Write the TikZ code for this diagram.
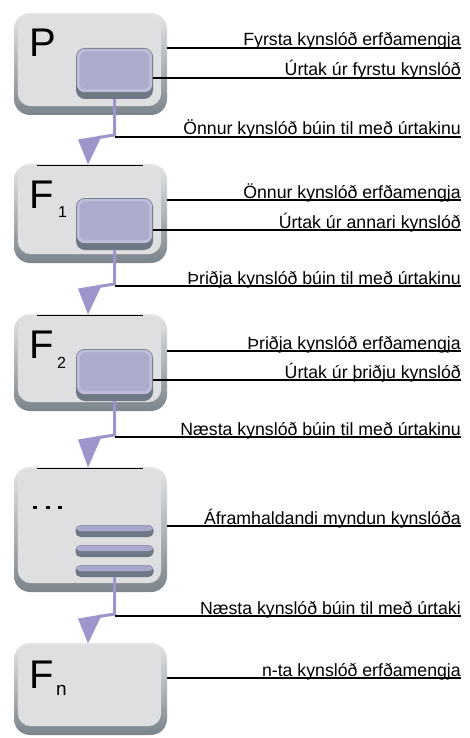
\documentclass[tikz,border=0pt]{standalone}
\usepackage{fontspec}
\setmainfont{Liberation Sans}
\definecolor{flowc}{HTML}{9C96CD}
\definecolor{keytop}{HTML}{E4E5E6}
\definecolor{keymid}{HTML}{CFD2D4}
\definecolor{keybot}{HTML}{7C858C}
\definecolor{keyface}{HTML}{DEDFE1}
\definecolor{slate}{HTML}{6E7884}
\definecolor{lavlight}{HTML}{BEBEDA}
\definecolor{lavface}{HTML}{ABABCC}
\definecolor{barlav}{HTML}{A9A9CB}
\newcommand\facekey[1]{%
  \fill[keyface, rounded corners=13pt] ([xshift=4pt,yshift=-2pt]#1.north west) rectangle ([xshift=-6pt,yshift=9pt]#1.south east);}
\newcommand\purplekey[1]{%
  \fill[lavlight, rounded corners=8pt] ([xshift=1pt,yshift=-1pt]#1.north west) rectangle ([xshift=-1pt,yshift=7pt]#1.south east);
  \fill[lavface, rounded corners=6pt] ([xshift=4pt,yshift=-3.5pt]#1.north west) rectangle ([xshift=-4pt,yshift=10pt]#1.south east);}
\newcommand\barkey[1]{%
  \fill[barlav, rounded corners=4pt] ([xshift=1pt,yshift=-0.5pt]#1.north west) rectangle ([xshift=-1pt,yshift=6pt]#1.south east);}
\begin{document}
\begin{tikzpicture}[x=1pt,y=-1pt,
  outerkey/.style={rectangle, inner sep=0pt, rounded corners=16pt, top color=keytop, middle color=keymid, bottom color=keybot, minimum width=153pt},
  innerkey/.style={rectangle, inner sep=0pt, rounded corners=9pt, fill=slate, minimum width=77pt},
  barnode/.style={rectangle, inner sep=0pt, rounded corners=5pt, fill=slate, minimum width=78pt, minimum height=12pt},
  lbl/.style={anchor=base east, inner sep=0pt, font=\fontsize{17.7}{20}\selectfont},
  big/.style={anchor=base west, inner sep=0pt, font=\fontsize{40}{40}\selectfont},
  subs/.style={anchor=base west, inner sep=0pt, font=\fontsize{16}{16}\selectfont},
  leader/.style={draw=black, line width=1.3pt},
  flow/.style={draw=flowc, line width=3pt},
  topline/.style={draw=black, line width=0.8pt},
  dotnode/.style={rectangle, fill=black, inner sep=0pt, minimum size=3.6pt}]
\useasboundingbox (0,0) rectangle (469,738);

% ---------- keys ----------
\node[outerkey, minimum height=102pt] (b1) at (90.5,64) {};
\facekey{b1}
\node[outerkey, minimum height=99pt] (b2) at (90.5,213.5) {};
\facekey{b2}
\node[outerkey, minimum height=97pt] (b3) at (90.5,362.5) {};
\facekey{b3}
\node[outerkey, minimum height=125pt] (b4) at (90.5,529.5) {};
\facekey{b4}
\node[outerkey, minimum height=92pt] (b5) at (90.5,689) {};
\facekey{b5}

\draw[topline] ([xshift=23pt,yshift=-1.2pt]b2.north west) -- ([xshift=-24pt,yshift=-1.2pt]b2.north east);
\draw[topline] ([xshift=23pt,yshift=-1.2pt]b3.north west) -- ([xshift=-24pt,yshift=-1.2pt]b3.north east);
\draw[topline] ([xshift=23pt,yshift=-1.2pt]b4.north west) -- ([xshift=-24pt,yshift=-1.2pt]b4.north east);

\node[innerkey, minimum height=51pt] (i1) at (114.5,73.5) {};
\purplekey{i1}
\node[innerkey, minimum height=52pt] (i2) at (114.5,224) {};
\purplekey{i2}
\node[innerkey, minimum height=52pt] (i3) at (114.5,375) {};
\purplekey{i3}

\node[barnode] (r1) at (114.5,531) {};
\barkey{r1}
\node[barnode] (r2) at (114.5,551) {};
\barkey{r2}
\node[barnode] (r3) at (114.5,571) {};
\barkey{r3}

% ---------- key letters ----------
\node[big] (lp) at (29,57) {P};
\node[big] (lf1) at (29,208) {F};
\node[subs] (s1) at (58,217) {1};
\node[big] (lf2) at (29,358) {F};
\node[subs] (s2) at (57,368) {2};
\node[dotnode] (d1) at (35,507.5) {};
\node[dotnode] (d2) at (48,507.5) {};
\node[dotnode] (d3) at (60,507.5) {};
\node[big] (lfn) at (29,688) {F};
\node[subs, font=\fontsize{19}{19}\selectfont] (sn) at (56,695) {n};

% ---------- flow arrows ----------
\coordinate (k1) at (114.5,135); \coordinate (m1) at (99,137.5); \coordinate (p1) at (88,164.5);
\coordinate (k2) at (114.5,284); \coordinate (m2) at (99,286.5); \coordinate (p2) at (88,314.5);
\coordinate (k3) at (114.5,435); \coordinate (m3) at (99,437.5); \coordinate (p3) at (88,467.5);
\coordinate (k4) at (114.5,614); \coordinate (m4) at (99,616.5); \coordinate (p4) at (88,643.5);

\draw[flow] (i1.south) -- (k1) -- (m1);
\fill[flowc] (78,139.5) -- (102,135.5) -- (p1) -- cycle;
\draw[flow] (i2.south) -- (k2) -- (m2);
\fill[flowc] (78,288.5) -- (102,284.5) -- (p2) -- cycle;
\draw[flow] (i3.south) -- (k3) -- (m3);
\fill[flowc] (78,439.5) -- (102,435.5) -- (p3) -- cycle;
\draw[flow] (r3.south) -- (k4) -- (m4);
\fill[flowc] (78,618.5) -- (102,614.5) -- (p4) -- cycle;

% ---------- leader lines ----------
\coordinate (e1a) at (461,48);  \coordinate (e1b) at (461,78);  \coordinate (e1c) at (461,137);
\coordinate (e2a) at (461,200); \coordinate (e2b) at (461,230); \coordinate (e2c) at (461,286);
\coordinate (e3a) at (461,351); \coordinate (e3b) at (461,380); \coordinate (e3c) at (461,437);
\coordinate (e4a) at (461,526); \coordinate (e4c) at (461,616);
\coordinate (e5a) at (461,678);

\draw[leader] (b1.east |- e1a) -- (e1a);
\draw[leader] (i1.east |- e1b) -- (e1b);
\draw[leader] (k1 |- e1c) -- (e1c);
\draw[leader] (b2.east |- e2a) -- (e2a);
\draw[leader] (i2.east |- e2b) -- (e2b);
\draw[leader] (k2 |- e2c) -- (e2c);
\draw[leader] (b3.east |- e3a) -- (e3a);
\draw[leader] (i3.east |- e3b) -- (e3b);
\draw[leader] (k3 |- e3c) -- (e3c);
\draw[leader] (b4.east |- e4a) -- (e4a);
\draw[leader] (k4 |- e4c) -- (e4c);
\draw[leader] (b5.east |- e5a) -- (e5a);

% ---------- labels ----------
\node[lbl] (t1a) at ([yshift=2pt]e1a) {Fyrsta kynslóð erfðamengja};
\node[lbl] (t1b) at ([yshift=2pt]e1b) {Úrtak úr fyrstu kynslóð};
\node[lbl] (t1c) at ([yshift=2pt]e1c) {Önnur kynslóð búin til með úrtakinu};
\node[lbl] (t2a) at ([yshift=2pt]e2a) {Önnur kynslóð erfðamengja};
\node[lbl] (t2b) at ([yshift=2pt]e2b) {Úrtak úr annari kynslóð};
\node[lbl] (t2c) at ([yshift=2pt]e2c) {Þriðja kynslóð búin til með úrtakinu};
\node[lbl] (t3a) at ([yshift=2pt]e3a) {Þriðja kynslóð erfðamengja};
\node[lbl] (t3b) at ([yshift=2pt]e3b) {Úrtak úr þriðju kynslóð};
\node[lbl] (t3c) at ([yshift=2pt]e3c) {Næsta kynslóð búin til með úrtakinu};
\node[lbl] (t4a) at ([yshift=2pt]e4a) {Áframhaldandi myndun kynslóða};
\node[lbl] (t4c) at ([yshift=2pt]e4c) {Næsta kynslóð búin til með úrtaki};
\node[lbl] (t5a) at ([yshift=2pt]e5a) {n-ta kynslóð erfðamengja};
\end{tikzpicture}
\end{document}
